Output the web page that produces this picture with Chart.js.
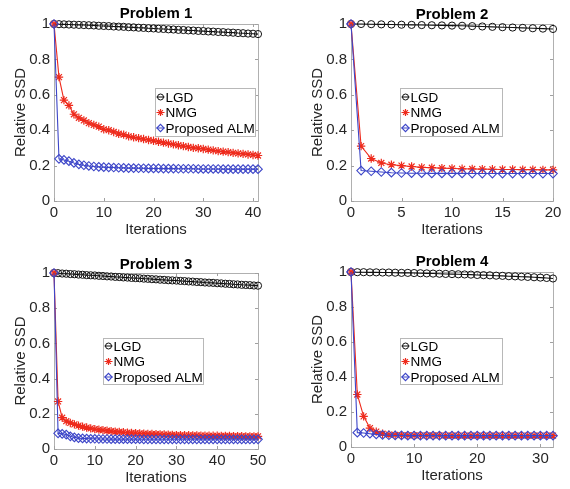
<!DOCTYPE html>
<html><head><meta charset="utf-8">
<script src="https://cdn.jsdelivr.net/npm/chart.js@4/dist/chart.umd.min.js"></script>
<style>
html,body{margin:0;padding:0;background:#fff;}
#wrap{position:relative;width:570px;height:489px;overflow:hidden;background:#fff;}
.panel{position:absolute;}
</style></head><body>
<div id="wrap">
<div class="panel" style="left:0px;top:0px"><canvas id="c1" width="278" height="245"></canvas></div>
<div class="panel" style="left:297px;top:0px"><canvas id="c2" width="276" height="245"></canvas></div>
<div class="panel" style="left:0px;top:249px"><canvas id="c3" width="278" height="244"></canvas></div>
<div class="panel" style="left:297px;top:248px"><canvas id="c4" width="276" height="243"></canvas></div>
</div>
<script>
// ---------- data ----------
const seriesNames = ['LGD', 'NMG', 'Proposed ALM'];
const titles = ['Problem 1', 'Problem 2', 'Problem 3', 'Problem 4'];
const xMax = [41, 20, 50, 32];
const xStep = [10, 5, 10, 10];
const yTicks = [0, 0.2, 0.4, 0.6, 0.8, 1];

const p1Iter = [0,1,2,3,4,5,6,7,8,9,10,11,12,13,14,15,16,17,18,19,20,21,22,23,24,25,26,27,28,29,30,31,32,33,34,35,36,37,38,39,40,41];
const p1LGD = [1.000,0.999,0.998,0.997,0.996,0.995,0.994,0.993,0.992,0.990,0.989,0.988,0.986,0.985,0.984,0.982,0.981,0.979,0.978,0.976,0.975,0.973,0.972,0.970,0.969,0.967,0.966,0.964,0.963,0.961,0.960,0.958,0.957,0.955,0.954,0.952,0.951,0.949,0.948,0.946,0.945,0.943];
const p1NMG = [1.00,0.70,0.57,0.54,0.49,0.47,0.455,0.44,0.43,0.42,0.405,0.40,0.39,0.38,0.375,0.365,0.36,0.355,0.35,0.345,0.34,0.335,0.33,0.325,0.32,0.315,0.31,0.305,0.30,0.298,0.294,0.29,0.286,0.282,0.279,0.276,0.272,0.269,0.266,0.263,0.26,0.257];
const p1ALM = [1.00,0.238,0.232,0.225,0.215,0.207,0.202,0.198,0.195,0.193,0.191,0.19,0.189,0.188,0.187,0.186,0.186,0.185,0.185,0.184,0.184,0.184,0.183,0.183,0.183,0.182,0.182,0.182,0.182,0.181,0.181,0.181,0.181,0.181,0.18,0.18,0.18,0.18,0.18,0.18,0.18,0.18];

const p2Iter = [0,1,2,3,4,5,6,7,8,9,10,11,12,13,14,15,16,17,18,19,20];
const p2LGD = [1.000,1.000,0.999,0.998,0.997,0.996,0.995,0.994,0.993,0.992,0.991,0.990,0.988,0.986,0.984,0.982,0.980,0.978,0.976,0.974,0.972];
const p2NMG = [1.00,0.31,0.24,0.215,0.205,0.20,0.195,0.19,0.188,0.186,0.184,0.182,0.181,0.18,0.179,0.178,0.178,0.177,0.177,0.176,0.176];
const p2ALM = [1.00,0.172,0.168,0.164,0.16,0.158,0.157,0.157,0.156,0.156,0.156,0.156,0.155,0.155,0.155,0.155,0.155,0.155,0.155,0.155,0.155];

const p3Iter = [0,1,2,3,4,5,6,7,8,9,10,11,12,13,14,15,16,17,18,19,20,21,22,23,24,25,26,27,28,29,30,31,32,33,34,35,36,37,38,39,40,41,42,43,44,45,46,47,48,49,50];
const p3LGD = [1.000,0.999,0.997,0.996,0.994,0.993,0.991,0.990,0.988,0.987,0.986,0.984,0.983,0.981,0.980,0.978,0.977,0.975,0.974,0.972,0.971,0.970,0.968,0.967,0.965,0.964,0.962,0.961,0.959,0.958,0.957,0.955,0.954,0.952,0.951,0.949,0.948,0.946,0.945,0.944,0.942,0.941,0.939,0.938,0.936,0.935,0.933,0.932,0.931,0.929,0.928];
const p3NMG = [1.00,0.27,0.178,0.158,0.148,0.14,0.133,0.127,0.122,0.117,0.113,0.11,0.107,0.104,0.101,0.099,0.097,0.095,0.093,0.091,0.09,0.088,0.087,0.086,0.085,0.084,0.083,0.082,0.081,0.08,0.079,0.079,0.078,0.078,0.077,0.077,0.076,0.076,0.075,0.075,0.075,0.074,0.074,0.074,0.073,0.073,0.073,0.072,0.072,0.072,0.072];
const p3ALM = [1.00,0.089,0.086,0.082,0.072,0.066,0.062,0.06,0.059,0.058,0.058,0.057,0.057,0.057,0.056,0.056,0.056,0.056,0.056,0.056,0.056,0.056,0.055,0.055,0.055,0.055,0.055,0.055,0.055,0.055,0.055,0.055,0.055,0.055,0.055,0.055,0.055,0.055,0.055,0.055,0.055,0.055,0.055,0.055,0.055,0.055,0.055,0.055,0.055,0.055,0.055];

const p4Iter = [0,1,2,3,4,5,6,7,8,9,10,11,12,13,14,15,16,17,18,19,20,21,22,23,24,25,26,27,28,29,30,31,32];
const p4LGD = [1.000,0.999,0.999,0.998,0.998,0.997,0.997,0.996,0.995,0.995,0.994,0.993,0.992,0.991,0.990,0.989,0.988,0.987,0.986,0.985,0.983,0.982,0.981,0.979,0.978,0.976,0.975,0.973,0.972,0.970,0.968,0.966,0.963];
const p4NMG = [1.00,0.30,0.175,0.108,0.088,0.076,0.071,0.069,0.068,0.067,0.067,0.066,0.066,0.066,0.066,0.065,0.065,0.065,0.065,0.065,0.065,0.065,0.065,0.065,0.065,0.065,0.065,0.065,0.065,0.065,0.065,0.065,0.065];
const p4ALM = [1.00,0.082,0.08,0.076,0.072,0.069,0.067,0.066,0.066,0.065,0.065,0.065,0.065,0.065,0.065,0.065,0.065,0.065,0.065,0.065,0.065,0.065,0.065,0.065,0.065,0.065,0.065,0.065,0.065,0.065,0.065,0.065,0.065];

// ---------- styling ----------
const FONT = "'Liberation Sans', Arial, Helvetica, sans-serif";
const TXT = '#262626';
const styles = [
  {color:'#111111', pointStyle:'circle', radius:3.6, bw:1.0, order:2, lgR:3.0},
  {color:'#ee2a1c', pointStyle:'star', radius:4.2, bw:1.2, order:1, lgR:3.4},
  {color:'#3d46c8', pointStyle:'rectRot', radius:4.3, bw:1.1, order:0, lgR:3.6}
];

const framePlugin = {
  id: 'frame',
  beforeDatasetsDraw(chart) {
    const {ctx, chartArea: a, scales} = chart;
    ctx.save();
    ctx.strokeStyle = '#b0b0b0';
    ctx.lineWidth = 1;
    ctx.strokeRect(Math.round(a.left)+0.5, Math.round(a.top)+0.5, Math.round(a.right-a.left), Math.round(a.bottom-a.top));
    ctx.strokeStyle = '#a0a0a0';
    const tl = 3;
    ctx.beginPath();
    scales.x.ticks.forEach(t => {
      const px = Math.round(scales.x.getPixelForValue(t.value)) + 0.5;
      ctx.moveTo(px, a.bottom); ctx.lineTo(px, a.bottom - tl);
      ctx.moveTo(px, a.top); ctx.lineTo(px, a.top + tl);
    });
    scales.y.ticks.forEach(t => {
      const py = Math.round(scales.y.getPixelForValue(t.value)) + 0.5;
      ctx.moveTo(a.left, py); ctx.lineTo(a.left + tl, py);
      ctx.moveTo(a.right, py); ctx.lineTo(a.right - tl, py);
    });
    ctx.stroke();
    ctx.restore();
  },
  afterDraw(chart) {
    const {ctx, chartArea: a} = chart;
    const o = chart.options.plugins.frame;
    ctx.save();
    // title
    ctx.fillStyle = '#000';
    ctx.font = 'bold 15px ' + FONT;
    ctx.textAlign = 'center';
    ctx.textBaseline = 'middle';
    ctx.fillText(o.title, (a.left + a.right) / 2, a.top - o.titleGap);
    // legend box
    const lx = Math.round(a.left + o.lgX) + 0.5, ly = Math.round(a.top + o.lgY) + 0.5;
    const lw = o.lgW, lh = o.lgH;
    ctx.fillStyle = '#fff';
    ctx.fillRect(lx, ly, lw, lh);
    ctx.strokeStyle = '#b8b8b8';
    ctx.lineWidth = 1;
    ctx.strokeRect(lx, ly, lw, lh);
    ctx.font = '13.5px ' + FONT;
    ctx.textAlign = 'left';
    chart.data.datasets.forEach((ds, i) => {
      const st = styles[i];
      const cy = ly + lh / 2 + (i - 1) * 15.5;
      const cx = lx + 5;
      ctx.strokeStyle = st.color;
      ctx.lineWidth = 1;
      ctx.beginPath(); ctx.moveTo(cx - 4, cy); ctx.lineTo(cx + 4, cy); ctx.stroke();
      ctx.fillStyle = 'rgba(0,0,0,0)';
      ctx.lineWidth = st.bw;
      Chart.helpers.drawPoint(ctx, {pointStyle: st.pointStyle, radius: st.lgR, borderWidth: st.bw, rotation: 0}, cx, cy);
      ctx.fillStyle = '#000';
      ctx.fillText(ds.label, lx + 10, cy + 1);
    });
    ctx.restore();
  }
};

function makeChart(id, idx, iters, lgd, nmg, alm, extra) {
  const series = [lgd, nmg, alm];
  const datasets = series.map((vals, i) => ({
    label: seriesNames[i],
    data: vals,
    borderColor: styles[i].color,
    backgroundColor: 'rgba(0,0,0,0)',
    borderWidth: 1.1,
    pointStyle: styles[i].pointStyle,
    pointRadius: styles[i].radius,
    pointBorderColor: styles[i].color,
    pointBackgroundColor: 'rgba(0,0,0,0)',
    pointBorderWidth: styles[i].bw,
    tension: 0,
    clip: false,
    order: styles[i].order
  }));
  return new Chart(document.getElementById(id), {
    type: 'line',
    data: { labels: iters, datasets },
    options: {
      responsive: false,
      animation: false,
      events: [],
      layout: { padding: {top: 24, right: 20, left: 0, bottom: 0}, autoPadding: false },
      plugins: {
        legend: {display: false},
        tooltip: {enabled: false},
        title: {display: false},
        frame: Object.assign({title: titles[idx]}, extra)
      },
      scales: {
        x: {
          type: 'linear', min: 0, max: xMax[idx],
          grid: {display: false, drawTicks: false},
          border: {display: false},
          ticks: {stepSize: xStep[idx], includeBounds: false, padding: 3, color: TXT, font: {family: FONT, size: 15}, maxRotation: 0},
          title: {display: true, text: 'Iterations', color: TXT, font: {family: FONT, size: 15}, padding: {top: 0, bottom: 6}},
          afterFit: s => { s.height = 44; }
        },
        y: {
          type: 'linear', min: 0, max: 1,
          afterBuildTicks: s => { s.ticks = yTicks.map(v => ({value: v})); },
          grid: {display: false, drawTicks: false},
          border: {display: false},
          ticks: {padding: 4, color: TXT, font: {family: FONT, size: 15}, callback: v => String(Math.round(v * 10) / 10)},
          title: {display: true, text: 'Relative SSD', color: TXT, font: {family: FONT, size: 15}, padding: {top: 12, bottom: 0}},
          afterFit: s => { s.width = 54; }
        }
      }
    },
    plugins: [framePlugin]
  });
}

makeChart('c1', 0, p1Iter, p1LGD, p1NMG, p1ALM, {lgX: 101, lgY: 64, lgW: 100, lgH: 48, titleGap: 10});
makeChart('c2', 1, p2Iter, p2LGD, p2NMG, p2ALM, {lgX: 49, lgY: 64, lgW: 102, lgH: 48, titleGap: 9});
makeChart('c3', 2, p3Iter, p3LGD, p3NMG, p3ALM, {lgX: 49, lgY: 65, lgW: 100, lgH: 46, titleGap: 8});
makeChart('c4', 3, p4Iter, p4LGD, p4NMG, p4ALM, {lgX: 49, lgY: 66, lgW: 102, lgH: 46, titleGap: 10});
</script>
</body></html>
